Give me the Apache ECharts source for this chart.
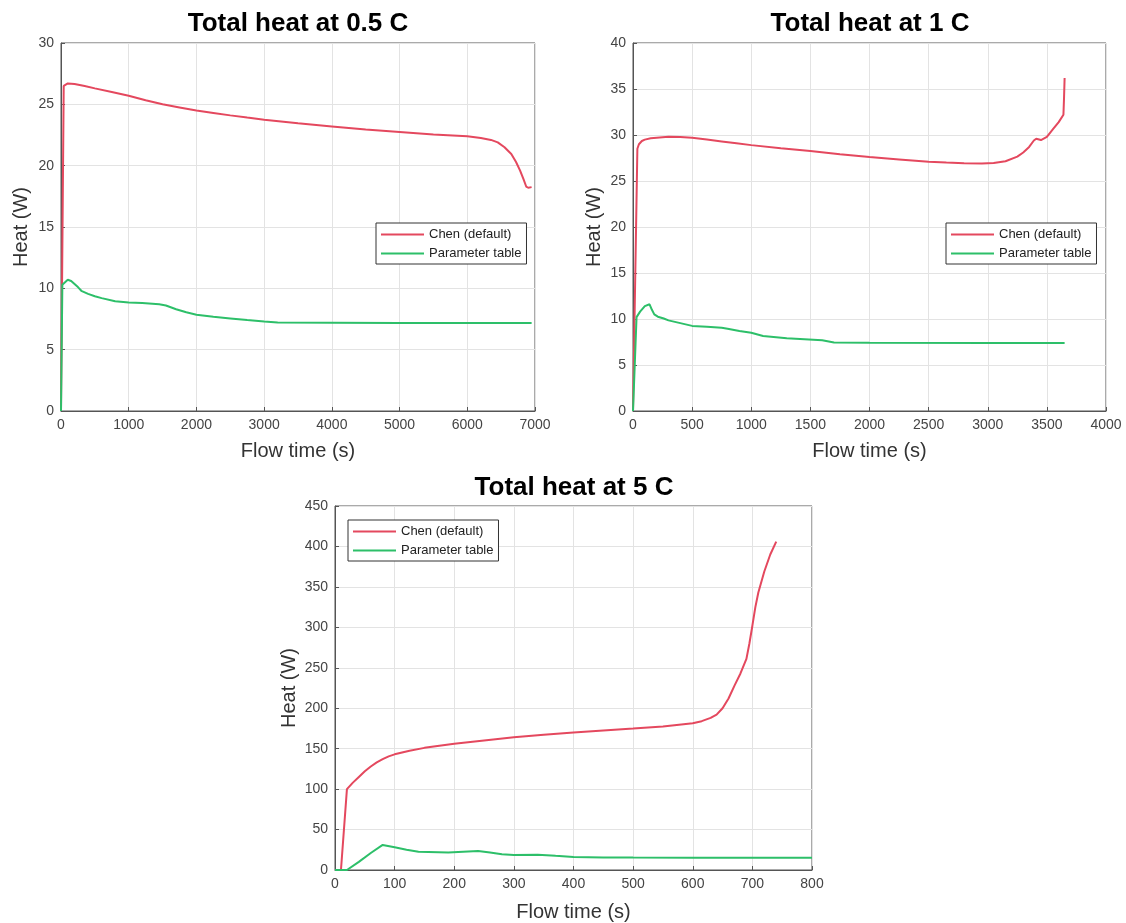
<!DOCTYPE html>
<html>
<head>
<meta charset="utf-8">
<script src="https://cdn.jsdelivr.net/npm/echarts@6/dist/echarts.min.js"></script>
<style>html,body{margin:0;padding:0;background:#fff}#c{width:1126px;height:923px}</style>
</head>
<body>
<div id="c"></div>
<script>
// ---- data ----
const seriesNames = ['Chen (default)', 'Parameter table'];
const titles = ['Total heat at 0.5 C', 'Total heat at 1 C', 'Total heat at 5 C'];
const xAxisName = 'Flow time (s)';
const yAxisName = 'Heat (W)';

const chen05 = [[0,0],[40,26.5],[100,26.7],[200,26.65],[350,26.5],[500,26.3],[750,26.0],[1000,25.7],[1250,25.33],[1500,25.0],[1750,24.75],[2000,24.5],[2250,24.3],[2500,24.1],[2750,23.92],[3000,23.75],[3500,23.45],[4000,23.2],[4500,22.95],[5000,22.75],[5500,22.55],[6000,22.4],[6200,22.25],[6350,22.1],[6450,21.9],[6550,21.5],[6650,20.95],[6720,20.3],[6780,19.6],[6830,18.9],[6870,18.3],[6900,18.2],[6950,18.25]];
const param05 = [[0,0],[20,10.3],[60,10.5],[100,10.7],[150,10.6],[250,10.1],[300,9.8],[400,9.55],[500,9.35],[600,9.2],[800,8.95],[1000,8.85],[1200,8.8],[1450,8.7],[1550,8.6],[1700,8.3],[1850,8.05],[2000,7.85],[2250,7.68],[2500,7.55],[2750,7.42],[3000,7.3],[3200,7.22],[4000,7.2],[5000,7.18],[6000,7.17],[6950,7.17]];

const chen1 = [[0,0],[37,28.5],[50,29.0],[75,29.35],[100,29.5],[150,29.65],[200,29.7],[300,29.8],[400,29.78],[500,29.7],[625,29.5],[750,29.3],[875,29.1],[1000,28.9],[1250,28.55],[1500,28.25],[1750,27.9],[2000,27.6],[2250,27.35],[2500,27.1],[2650,27.0],[2800,26.92],[2950,26.9],[3050,26.95],[3150,27.15],[3250,27.65],[3300,28.1],[3350,28.7],[3390,29.4],[3410,29.6],[3450,29.45],[3500,29.8],[3550,30.6],[3600,31.4],[3640,32.2],[3645,34.0],[3650,36.2]];
const param1 = [[0,0],[30,10.2],[60,10.8],[100,11.4],[140,11.6],[160,11.0],[180,10.5],[210,10.25],[260,10.05],[300,9.85],[400,9.55],[500,9.25],[625,9.15],[750,9.05],[800,8.95],[900,8.7],[1000,8.5],[1100,8.15],[1300,7.9],[1600,7.7],[1700,7.45],[2000,7.42],[3000,7.4],[3650,7.4]];

const chen5 = [[0,0],[10,0],[20,100],[30,108],[40,115],[50,122],[60,128],[70,133],[80,137],[90,140.5],[100,143],[125,147.5],[150,151],[175,153.7],[200,156],[250,160],[300,164],[350,167.2],[400,170],[450,172.6],[500,175],[550,177.5],[600,181.5],[615,184],[630,188],[640,192],[650,200],[660,212],[670,228],[680,243],[690,261],[695,280],[700,302],[705,325],[710,343],[720,369],[730,390],[740,406]];
const param5 = [[0,0],[20,0],[40,10],[60,21],[80,31],[100,28],[120,25],[140,22.5],[190,21.5],[215,22.5],[240,23.5],[260,21.5],[280,19.5],[300,18.5],[340,19.0],[370,17.5],[400,16.2],[450,15.5],[500,15.3],[600,15.2],[800,15.0]];

const xTicks = [{min:0,max:7000,interval:1000},{min:0,max:4000,interval:500},{min:0,max:800,interval:100}];
const yTicks = [{min:0,max:30,interval:5},{min:0,max:40,interval:5},{min:0,max:450,interval:50}];

// ---- layout ----
const FONT = "'Liberation Sans', Arial, Helvetica, sans-serif";
const RED = '#e4485e', GREEN = '#2dbf69';
const grids = [
  {left:61, top:43, width:474, height:368},
  {left:633, top:43, width:473, height:368},
  {left:335, top:506, width:477, height:365}
];
const titlePos = [{x:298, y:11},{x:870, y:11},{x:574, y:475}];
const legendPos = [{x:376, y:223},{x:946, y:223},{x:348, y:520}];
const xNameGap = [30, 30, 32];
const yNameGap = [30, 29, 36];
const chenData = [chen05, chen1, chen5];
const paramData = [param05, param1, param5];

const option = {
  backgroundColor:'#fff',
  animation:false,
  title: grids.map((g,i)=>({text:titles[i], left:titlePos[i].x, top:titlePos[i].y, textAlign:'center', padding:0,
    textStyle:{fontFamily:FONT, fontWeight:'bold', fontSize:26, color:'#000'}})),
  legend: grids.map((g,i)=>({data:seriesNames, orient:'vertical', left:legendPos[i].x, top:legendPos[i].y,
    padding:[5,5,4,5], itemWidth:43, itemHeight:2, itemGap:6, icon:'rect',
    borderColor:'#333', borderWidth:1, backgroundColor:'#fff',
    textStyle:{fontFamily:FONT, fontSize:13, color:'#222'}})),
  grid: grids.map(g=>Object.assign({show:true, borderColor:'#555', borderWidth:1, containLabel:false}, g)),
  xAxis: grids.map((g,i)=>({type:'value', gridIndex:i, min:xTicks[i].min, max:xTicks[i].max, interval:xTicks[i].interval,
    name:xAxisName, nameLocation:'middle', nameGap:xNameGap[i],
    nameTextStyle:{fontFamily:FONT, fontSize:20, color:'#333'},
    axisLine:{show:true, lineStyle:{color:'#555', width:1}},
    axisTick:{show:true, inside:true, length:4, lineStyle:{color:'#555'}},
    axisLabel:{fontFamily:FONT, fontSize:14, color:'#444', margin:7, formatter:v=>String(v)},
    splitLine:{show:true, lineStyle:{color:'#e3e3e3', width:1}}})),
  yAxis: grids.map((g,i)=>({type:'value', gridIndex:i, min:yTicks[i].min, max:yTicks[i].max, interval:yTicks[i].interval,
    name:yAxisName, nameLocation:'middle', nameGap:yNameGap[i],
    nameTextStyle:{fontFamily:FONT, fontSize:20, color:'#333'},
    axisLine:{show:true, lineStyle:{color:'#555', width:1}},
    axisTick:{show:true, inside:true, length:4, lineStyle:{color:'#555'}},
    axisLabel:{fontFamily:FONT, fontSize:14, color:'#444', margin:7, formatter:v=>String(v)},
    splitLine:{show:true, lineStyle:{color:'#e3e3e3', width:1}}})),
  series: []
};
grids.forEach((g,i)=>{
  option.series.push({name:seriesNames[0], type:'line', xAxisIndex:i, yAxisIndex:i, data:chenData[i], showSymbol:false, symbol:'none', smooth:false,
    lineStyle:{color:RED, width:2}, itemStyle:{color:RED}});
  option.series.push({name:seriesNames[1], type:'line', xAxisIndex:i, yAxisIndex:i, data:paramData[i], showSymbol:false, symbol:'none', smooth:false,
    lineStyle:{color:GREEN, width:2}, itemStyle:{color:GREEN}});
});
const chart = echarts.init(document.getElementById('c'), null, {renderer:'canvas'});
chart.setOption(option);
</script>
</body>
</html>
